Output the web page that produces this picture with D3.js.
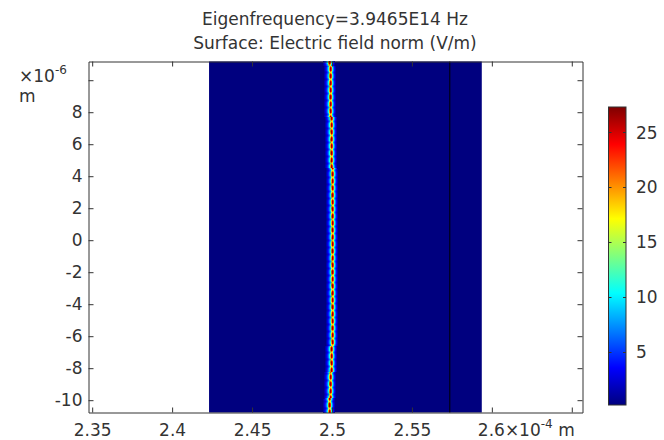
<!DOCTYPE html>
<html>
<head>
<meta charset="utf-8">
<script src="https://cdn.jsdelivr.net/npm/d3@7"></script>
<style>
  body { margin: 0; background: #fff; }
  text { font-family: "DejaVu Sans", sans-serif; fill: #333; }
</style>
</head>
<body>
<script>
// axis values (x in 1e-4 m, y in 1e-6 m)
const xTicks = [2.35, 2.4, 2.45, 2.5, 2.55, 2.6, 2.65];
const yTicks = [-10, -8, -6, -4, -2, 0, 2, 4, 6, 8, 10];
const colorTicks = [5, 10, 15, 20, 25];
const xDomain = [2.3477, 2.6567];
const yDomain = [-10.77, 11.17];
const fieldDomain = [0.13, 27.32];

// geometry
const blockX = [2.4231, 2.5937];
const boundaryX = 2.5737;
const backgroundField = 0.13;

// centre of the guided mode along y
const modeCenterY = [11.17, 4.0, 0.6, -6.3, -10.77];
const modeCenterX = [2.4984, 2.4998, 2.5003, 2.4998, 2.4981];

// field across the mode (offset in um) and ripple along it
const profileOffsetUm = [-0.375, -0.3125, -0.25, -0.1875, -0.125, -0.0625, 0, 0.0625, 0.125, 0.1875, 0.25, 0.3125];
const profileField = [1.3, 2.8, 4.5, 7, 10.5, 20, 26.8, 23, 11.5, 7, 3.8, 1.6];
const ripple = [1.0, 1.0, 0.95, 0.8, 0.68, 0.8, 0.97];
const cellUm = 0.0625;

const jet = ["#00007f", "#0000ff", "#007fff", "#00ffff", "#7fff7f", "#ffff00", "#ff7f00", "#ff0000", "#7f0000"];

const width = 664, height = 440;
const svg = d3.select("body").append("svg").attr("width", width).attr("height", height);

const x = d3.scaleLinear().domain(xDomain).range([88.5, 582.5]);
const y = d3.scaleLinear().domain(yDomain).range([412.5, 61.5]);
const color = d3.scaleSequential(d3.piecewise(d3.interpolateRgb, jet)).domain(fieldDomain);
const center = d3.scaleLinear().domain(modeCenterY).range(modeCenterX);

// title
svg.append("text").attr("x", 335).attr("y", 25).attr("text-anchor", "middle")
    .attr("font-size", 17).text("Eigenfrequency=3.9465E14 Hz");
svg.append("text").attr("x", 335).attr("y", 49).attr("text-anchor", "middle")
    .attr("font-size", 17).text("Surface: Electric field norm (V/m)");

// blue domain
const plot = svg.append("g");
plot.append("rect")
    .attr("x", x(blockX[0])).attr("y", y(yDomain[1]))
    .attr("width", x(blockX[1]) - x(blockX[0])).attr("height", y(yDomain[0]) - y(yDomain[1]))
    .attr("fill", color(backgroundField));

// mode field cells, weakest first so the peak stays on top
const rows = d3.range(yDomain[0], yDomain[1], cellUm);
const cells = [];
rows.forEach((yy, i) => {
    const c = center(yy + cellUm / 2);
    profileOffsetUm.forEach((off, k) => {
        cells.push({ x0: c + off / 100, y0: yy, v: profileField[k] * ripple[i % ripple.length] });
    });
});
cells.sort((a, b) => a.v - b.v);

plot.append("g").attr("shape-rendering", "crispEdges")
    .selectAll("rect")
    .data(cells)
    .enter()
    .append("rect")
    .attr("x", d => Math.round(x(d.x0)))
    .attr("y", d => Math.round(y(d.y0 + cellUm)))
    .attr("width", d => Math.max(1, Math.round(x(d.x0 + cellUm / 100)) - Math.round(x(d.x0))))
    .attr("height", d => Math.max(1, Math.round(y(d.y0)) - Math.round(y(d.y0 + cellUm))))
    .attr("fill", d => color(Math.max(backgroundField, d.v)));

// waveguide boundary
plot.append("path")
    .datum(modeCenterY)
    .attr("d", d3.line().x(d => x(center(d)) - 0.5).y(d => y(d)))
    .attr("fill", "none").attr("stroke", "#000").attr("stroke-width", 0.7)
    .attr("stroke-opacity", 0.45).attr("stroke-dasharray", "5 6");

plot.append("line")
    .attr("x1", x(boundaryX)).attr("x2", x(boundaryX))
    .attr("y1", y(yDomain[0])).attr("y2", y(yDomain[1]))
    .attr("stroke", "#000").attr("stroke-width", 1);

// axes
const axisStyle = g => {
    g.selectAll("path, line").attr("stroke", "#333");
    g.selectAll("text").attr("font-size", 17).attr("font-family", "DejaVu Sans").attr("fill", "#333");
};

svg.append("g").attr("transform", "translate(0,412.5)")
    .call(d3.axisBottom(x).tickValues(xTicks).tickSizeInner(-5).tickSizeOuter(0).tickPadding(11)
        .tickFormat(d => (d === 2.6 || d === 2.65) ? "" : String(d)))
    .call(axisStyle);

svg.append("g").attr("transform", "translate(0,61.5)")
    .call(d3.axisTop(x).tickValues(xTicks).tickSizeInner(-5).tickSizeOuter(0).tickFormat(""))
    .call(axisStyle);

svg.append("g").attr("transform", "translate(88.5,0)")
    .call(d3.axisLeft(y).tickValues(yTicks).tickSizeInner(-5).tickSizeOuter(0).tickPadding(6)
        .tickFormat(d => d === 10 ? "" : String(d)))
    .call(axisStyle);

svg.append("g").attr("transform", "translate(582.5,0)")
    .call(d3.axisRight(y).tickValues(yTicks).tickSizeInner(-5).tickSizeOuter(0).tickFormat(""))
    .call(axisStyle);

svg.selectAll(".domain").attr("stroke-width", 1);

// axis multipliers
const xm = svg.append("text").attr("x", x(2.6) - 14).attr("y", 435.5).attr("font-size", 17);
xm.append("tspan").text("2.6×10");
xm.append("tspan").attr("font-size", 12).attr("dy", -8).text("-4");
xm.append("tspan").attr("font-size", 17).attr("dy", 8).text(" m");

const ym = svg.append("text").attr("x", 19).attr("y", 82).attr("font-size", 17);
ym.append("tspan").text("×10");
ym.append("tspan").attr("font-size", 12).attr("dy", -8).text("-6");
svg.append("text").attr("x", 19).attr("y", 102).attr("font-size", 17).text("m");

// colorbar
const cb = { x: 608.5, w: 17.5 };
const cy = d3.scaleLinear().domain(fieldDomain).range([405, 107]);

const grad = svg.append("defs").append("linearGradient")
    .attr("id", "jet").attr("x1", 0).attr("y1", 1).attr("x2", 0).attr("y2", 0);
grad.selectAll("stop")
    .data(jet)
    .enter()
    .append("stop")
    .attr("offset", (d, i) => i / (jet.length - 1))
    .attr("stop-color", d => d);

svg.append("rect")
    .attr("x", cb.x).attr("y", cy(fieldDomain[1]))
    .attr("width", cb.w).attr("height", cy(fieldDomain[0]) - cy(fieldDomain[1]))
    .attr("fill", "url(#jet)").attr("stroke", "#333").attr("stroke-width", 1);

const cTick = svg.append("g").selectAll("g")
    .data(colorTicks)
    .enter()
    .append("g");
cTick.append("line")
    .attr("x1", cb.x).attr("x2", cb.x + 3)
    .attr("y1", d => Math.round(cy(d)) + 0.5).attr("y2", d => Math.round(cy(d)) + 0.5)
    .attr("stroke", "#333");
cTick.append("line")
    .attr("x1", cb.x + cb.w - 3).attr("x2", cb.x + cb.w)
    .attr("y1", d => Math.round(cy(d)) + 0.5).attr("y2", d => Math.round(cy(d)) + 0.5)
    .attr("stroke", "#333");
cTick.append("text")
    .attr("x", 636).attr("y", d => cy(d)).attr("dy", "0.36em")
    .attr("font-size", 17).text(d => d);
</script>
</body>
</html>
